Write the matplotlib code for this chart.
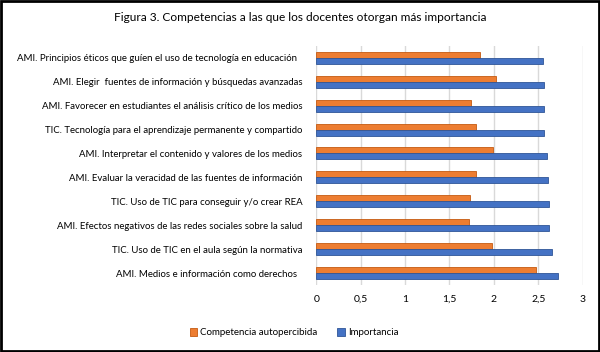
import numpy as np
import matplotlib
matplotlib.use('Agg')
import matplotlib.pyplot as plt
from matplotlib.patches import Rectangle

plt.rcParams['font.family'] = ['Lato', 'DejaVu Sans']

# categories, top to bottom as in the picture
labels = [
    'AMI. Principios éticos que guíen el uso de tecnología en educación  ',
    'AMI. Elegir  fuentes de información y búsquedas avanzadas',
    'AMI. Favorecer en estudiantes el análisis crítico de los medios',
    'TIC. Tecnología para el aprendizaje permanente y compartido',
    'AMI. Interpretar el contenido y valores de los medios',
    'AMI. Evaluar la veracidad de las fuentes de información',
    'TIC. Uso de TIC para conseguir y/o crear REA',
    'AMI. Efectos negativos de las redes sociales sobre la salud',
    'TIC. Uso de TIC en el aula según la normativa',
    'AMI. Medios e información como derechos  ',
]
competencia = [1.85, 2.02, 1.74, 1.80, 1.99, 1.80, 1.73, 1.72, 1.98, 2.48]
importancia = [2.55, 2.57, 2.57, 2.57, 2.60, 2.61, 2.62, 2.62, 2.65, 2.72]
ticks = [0, 0.5, 1, 1.5, 2, 2.5, 3]
tick_labels = ['0', '0,5', '1', '1,5', '2', '2,5', '3']

fig = plt.figure(figsize=(6, 3.52), dpi=100)
ax = fig.add_axes([0.527, 0.19, 0.444, 0.68])

n = len(labels)
y = np.arange(n)[::-1]
h = 0.25
ax.barh(y + h / 2, competencia, height=h, color='#ED7D31', edgecolor='#C55A11',
        linewidth=0.6, label='Competencia autopercibida', zorder=3)
ax.barh(y - h / 2, importancia, height=h, color='#4472C4', edgecolor='#2F5597',
        linewidth=0.6, label='Importancia', zorder=3)

ax.set_xlim(0, 3)
ax.set_ylim(-0.5, n - 0.5)
ax.set_xticks(ticks)
ax.set_xticklabels(tick_labels, fontsize=7.5)
ax.set_yticks(y)
ax.set_yticklabels(labels, fontsize=6.9)
ax.tick_params(length=0, pad=7)
ax.tick_params(axis='y', pad=10)
ax.grid(axis='x', color='#d9d9d9', linewidth=1, zorder=0)
for s in ax.spines.values():
    s.set_visible(False)

fig.suptitle('Figura 3. Competencias a las que los docentes otorgan más importancia',
             x=0.5, y=0.965, fontsize=8.6)

fig.legend(loc='center', bbox_to_anchor=(0.49, 0.055), ncol=2, frameon=False,
           fontsize=7.0, handlelength=0.8, handleheight=0.8, columnspacing=2.0,
           handletextpad=0.3)

fig.patches.append(Rectangle((0.002, 0.003), 0.996, 0.994, transform=fig.transFigure,
                             fill=False, edgecolor='black', linewidth=2))

fig.savefig('out.png', dpi=100)
